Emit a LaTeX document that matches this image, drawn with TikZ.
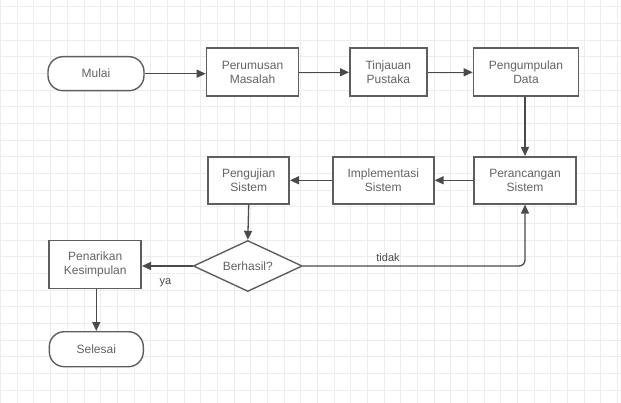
\documentclass[tikz,border=0pt]{standalone}
\usepackage{fontspec}
\setmainfont{Liberation Sans}
\usetikzlibrary{shapes.geometric,arrows.meta}
\definecolor{gridc}{HTML}{EDEDED}
\definecolor{boxc}{HTML}{5E5E5E}
\definecolor{linec}{HTML}{4A4A4A}
\definecolor{txtc}{HTML}{636363}
\begin{document}
\begin{tikzpicture}[x=1pt,y=-1pt,
  every node/.style={font=\fontsize{12}{13.5}\selectfont, text=txtc},
  procbox/.style={draw=boxc, line width=1.6pt, fill=white, minimum height=48pt, align=center, inner sep=0pt},
  termbox/.style={draw=boxc, line width=1.4pt, fill=white, rounded corners=15pt, minimum height=34pt, inner sep=0pt},
  decbox/.style={draw=boxc, line width=1.4pt, fill=white, diamond, aspect=2.1, minimum width=109pt, minimum height=51pt, inner sep=0pt},
  conn/.style={draw=linec, line width=1.3pt, -{Triangle[length=9pt,width=8pt]}},
  lbl/.style={font=\fontsize{11}{13}\selectfont, text=linec, inner sep=1pt}]
\useasboundingbox (0,0) rectangle (621,403);
\fill[white] (0,0) rectangle (621,403);
\foreach \i in {0,...,37} \draw[gridc, line width=0.9pt] (0.6+16.67*\i,0) -- (0.6+16.67*\i,403);
\foreach \i in {0,...,24} \draw[gridc, line width=0.9pt] (0,6.7+16.67*\i) -- (621,6.7+16.67*\i);

\node[termbox, minimum width=96pt] (mulai) at (96,73.7) {Mulai};
\node[procbox, minimum width=92pt] (perumusan) at (252.5,72.3) {Perumusan\\Masalah};
\node[procbox, minimum width=77pt] (tinjauan) at (388.3,72.3) {Tinjauan\\Pustaka};
\node[procbox, minimum width=105pt] (pengumpulan) at (526,72.3) {Pengumpulan\\Data};

\node[procbox, minimum width=102pt, minimum height=47pt] (perancangan) at (525,180.3) {Perancangan\\Sistem};
\node[procbox, minimum width=101pt, minimum height=47pt] (implementasi) at (383.3,180.3) {Implementasi\\Sistem};
\node[procbox, minimum width=81pt, minimum height=47pt] (pengujian) at (248.7,180.3) {Pengujian\\Sistem};

\node[decbox] (berhasil) at (247.8,266) {Berhasil?};
\node[procbox, minimum width=92pt] (penarikan) at (95.2,264.5) {Penarikan\\Kesimpulan};
\node[termbox, minimum width=94pt, minimum height=35pt] (selesai) at (96.3,349.2) {Selesai};

\draw[conn] (mulai.east) -- (perumusan.west |- mulai.east);
\draw[conn] (perumusan.east) -- (tinjauan.west);
\draw[conn] (tinjauan.east) -- (pengumpulan.west);
\draw[conn] (pengumpulan.south -| perancangan.north) -- (perancangan.north);
\draw[conn] (perancangan.west) -- (implementasi.east);
\draw[conn] (implementasi.west) -- (pengujian.east);
\draw[conn] (pengujian.south) -- (berhasil.north);
\draw[conn, rounded corners=6pt] (berhasil.east) -- (perancangan.south |- berhasil.east) -- (perancangan.south);
\draw[conn] (berhasil.west) -- (penarikan.east |- berhasil.west);
\draw[conn] (penarikan.south -| selesai.north) -- (selesai.north);

\node[lbl] (tidak) at (388,257.5) {tidak};
\node[lbl] (ya) at (165.5,283) {ya};
\end{tikzpicture}
\end{document}
